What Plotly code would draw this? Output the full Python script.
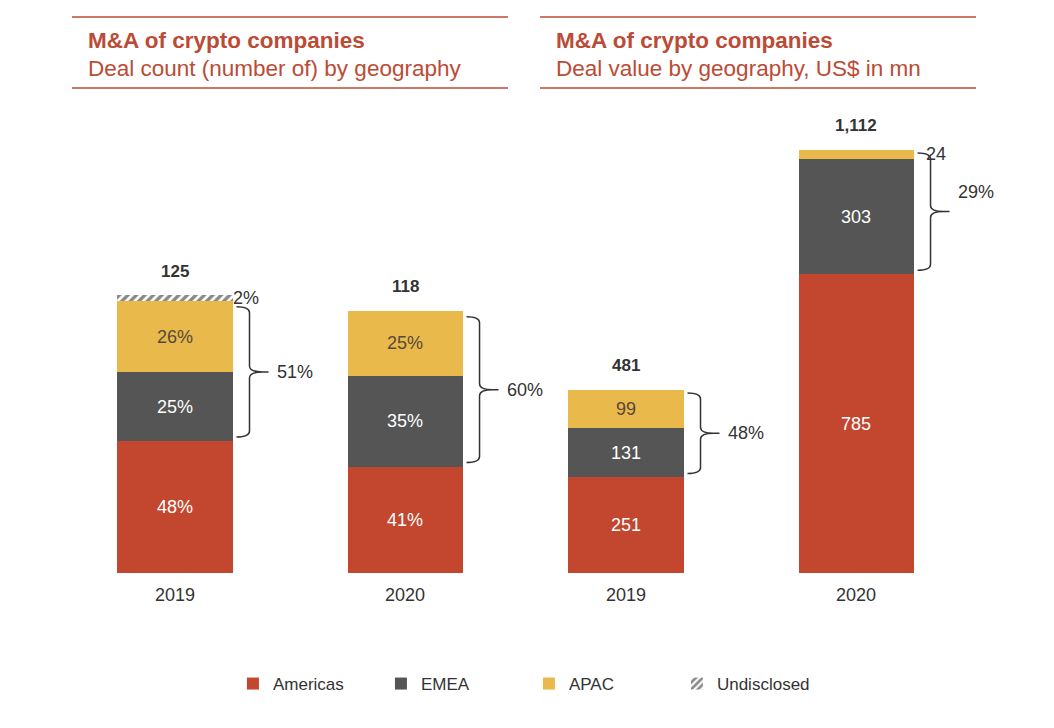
import plotly.graph_objects as go

years = ["2019", "2020"]

# deal count (number of), shares in %
count_total = [125, 118]
count_americas_pct = [48, 41]
count_emea_pct = [25, 35]
count_apac_pct = [26, 25]
count_undisclosed_pct = [2, 0]
count_bracket = ["51%", "60%"]

# deal value, US$ in mn
value_total = [481, 1112]
value_americas = [251, 785]
value_emea = [131, 303]
value_apac = [99, 24]
value_bracket = ["48%", "29%"]

RED = "#C3462F"
GREY = "#555555"
GOLD = "#E9B94C"
TITLE_COL = "#BB4B35"
FONT = "Liberation Sans, Arial, sans-serif"

W, H = 1054, 728
y_dom = [0.2129, 0.8626]
left_rng = [0, 215]
right_rng = [0, 1243]
left_dom = [0.0569, 0.4934]
right_dom = [0.4848, 0.9213]
xs = [0, 1]

plot_h = (y_dom[1] - y_dom[0]) * H
px_x = (left_dom[1] - left_dom[0]) * W / 2
px_y_left = plot_h / left_rng[1]
px_y_right = plot_h / right_rng[1]

# left panel counts from the shares
c_am = [p * t / 100 for p, t in zip(count_americas_pct, count_total)]
c_em = [p * t / 100 for p, t in zip(count_emea_pct, count_total)]
c_ap = [p * t / 100 for p, t in zip(count_apac_pct, count_total)]
c_un = [p * t / 100 for p, t in zip(count_undisclosed_pct, count_total)]

fig = go.Figure()


def add_bar(x, y, name, color, text, textcolor, xa, ya, show, pattern=None):
    marker = dict(color=color, line=dict(width=0))
    if pattern:
        marker["pattern"] = pattern
    fig.add_trace(go.Bar(
        x=x, y=y, name=name, marker=marker, width=0.5,
        text=text, textposition="inside", insidetextanchor="middle",
        textangle=0, textfont=dict(color=textcolor, size=18, family=FONT),
        xaxis=xa, yaxis=ya, showlegend=show, legendgroup=name,
        hoverinfo="skip"))


add_bar(xs, c_am, "Americas", RED, [f"{p}%" for p in count_americas_pct], "white", "x", "y", True)
add_bar(xs, c_em, "EMEA", GREY, [f"{p}%" for p in count_emea_pct], "white", "x", "y", True)
add_bar(xs, c_ap, "APAC", GOLD, [f"{p}%" for p in count_apac_pct], "#55493a", "x", "y", True)
add_bar(xs, c_un, "Undisclosed", "white", ["", ""], "#333", "x", "y", True,
        pattern=dict(shape="/", fgcolor="#111111", bgcolor="white", size=6, solidity=0.55))

ap_text = [str(v) if v * px_y_right > 20 else "" for v in value_apac]
add_bar(xs, value_americas, "Americas", RED, [str(v) for v in value_americas], "white", "x2", "y2", False)
add_bar(xs, value_emea, "EMEA", GREY, [str(v) for v in value_emea], "white", "x2", "y2", False)
add_bar(xs, value_apac, "APAC", GOLD, ap_text, "#55493a", "x2", "y2", False)

ann = []
shapes = []


def bracket(xc, ybot, ytop, pyy, xref, yref):
    edge = xc + 0.25
    x0 = edge + 4 / px_x
    xv = edge + 17 / px_x
    xt = edge + 30 / px_x
    xe = edge + 36 / px_x
    r = 6 / pyy
    ym = (ybot + ytop) / 2
    path = (f"M {x0},{ytop} Q {xv},{ytop} {xv},{ytop - r} L {xv},{ym + r} "
            f"Q {xv},{ym} {xt},{ym} Q {xv},{ym} {xv},{ym - r} L {xv},{ybot + r} "
            f"Q {xv},{ybot} {x0},{ybot} M {xt},{ym} L {xe},{ym}")
    shapes.append(dict(type="path", path=path, xref=xref, yref=yref,
                       line=dict(color="#333333", width=1.5)))
    return edge + 42 / px_x, ym


# left panel totals, brackets
for i in range(2):
    top = c_am[i] + c_em[i] + c_ap[i] + c_un[i]
    ann.append(dict(x=xs[i], y=top, xref="x", yref="y", text=f"<b>{count_total[i]}</b>",
                    showarrow=False, yshift=24, font=dict(size=17, color="#333333")))
    lx, ly = bracket(xs[i], c_am[i] + 4 / px_y_left, c_am[i] + c_em[i] + c_ap[i] - 6 / px_y_left,
                     px_y_left, "x", "y")
    ann.append(dict(x=lx, y=ly, xref="x", yref="y", text=count_bracket[i], showarrow=False,
                    xanchor="left", font=dict(size=18, color="#333333")))
    if c_un[i] > 0:
        ann.append(dict(x=xs[i] + 0.25, y=top - c_un[i] / 2, xref="x", yref="y",
                        text=f"{count_undisclosed_pct[i]}%", showarrow=False, xanchor="left",
                        xshift=-2, font=dict(size=18, color="#333333")))

# right panel totals, brackets
for i in range(2):
    top = value_americas[i] + value_emea[i] + value_apac[i]
    ann.append(dict(x=xs[i], y=top, xref="x2", yref="y2", text=f"<b>{value_total[i]:,}</b>",
                    showarrow=False, yshift=24, font=dict(size=17, color="#333333")))
    lx, ly = bracket(xs[i], value_americas[i] + 4 / px_y_right, top - 3 / px_y_right,
                     px_y_right, "x2", "y2")
    ann.append(dict(x=lx, y=ly, xref="x2", yref="y2", text=value_bracket[i], showarrow=False,
                    xanchor="left", yshift=20 if ap_text[i] == "" else 0,
                    font=dict(size=18, color="#333333")))
    if ap_text[i] == "":
        ann.append(dict(x=xs[i] + 0.25, y=top - value_apac[i] / 2, xref="x2", yref="y2",
                        text=str(value_apac[i]), showarrow=False, xanchor="left", xshift=10,
                        font=dict(size=18, color="#333333")))

# panel headers
titles = [("Deal count (number of) by geography", 0.0683, 0.482),
          ("Deal value by geography, US$ in mn", 0.5123, 0.926)]
for sub, x0, x1 in titles:
    ann.append(dict(x=x0 + 0.013, y=(H - 40) / H, xref="paper", yref="paper",
                    text="<b>M&A of crypto companies</b>", showarrow=False, xanchor="left",
                    yanchor="middle", font=dict(size=22.5, color=TITLE_COL)))
    ann.append(dict(x=x0 + 0.013, y=(H - 68) / H, xref="paper", yref="paper",
                    text=sub, showarrow=False, xanchor="left", yanchor="middle",
                    font=dict(size=22.5, color=TITLE_COL)))
    for yy in [(H - 17) / H, (H - 88) / H]:
        shapes.append(dict(type="line", xref="paper", yref="paper", x0=x0, x1=x1, y0=yy, y1=yy,
                           line=dict(color=TITLE_COL, width=1.3)))

axis_x = dict(tickmode="array", tickvals=xs, ticktext=years, range=[-0.5, 1.5],
              showgrid=False, zeroline=False, showline=False, ticks="outside", ticklen=5,
              tickcolor="rgba(0,0,0,0)", tickfont=dict(size=18, color="#333333"), fixedrange=True)

fig.update_layout(
    width=W, height=H, barmode="stack",
    margin=dict(l=0, r=0, t=0, b=0),
    paper_bgcolor="white", plot_bgcolor="white",
    font=dict(family=FONT, color="#333333"),
    xaxis=dict(axis_x, domain=left_dom, anchor="y"),
    xaxis2=dict(axis_x, domain=right_dom, anchor="y2"),
    yaxis=dict(domain=y_dom, range=left_rng, visible=False, anchor="x", fixedrange=True),
    yaxis2=dict(domain=y_dom, range=right_rng, visible=False, anchor="x2", fixedrange=True),
    legend=dict(orientation="h", x=0.221, y=(H - 684) / H, xanchor="left", yanchor="middle",
                traceorder="normal", entrywidth=103, entrywidthmode="pixels",
                font=dict(size=17, color="#333333")),
    annotations=ann, shapes=shapes, showlegend=True,
)

fig.write_html("out.html", config={"displayModeBar": False},
               post_script="document.body.style.margin='0px';")
